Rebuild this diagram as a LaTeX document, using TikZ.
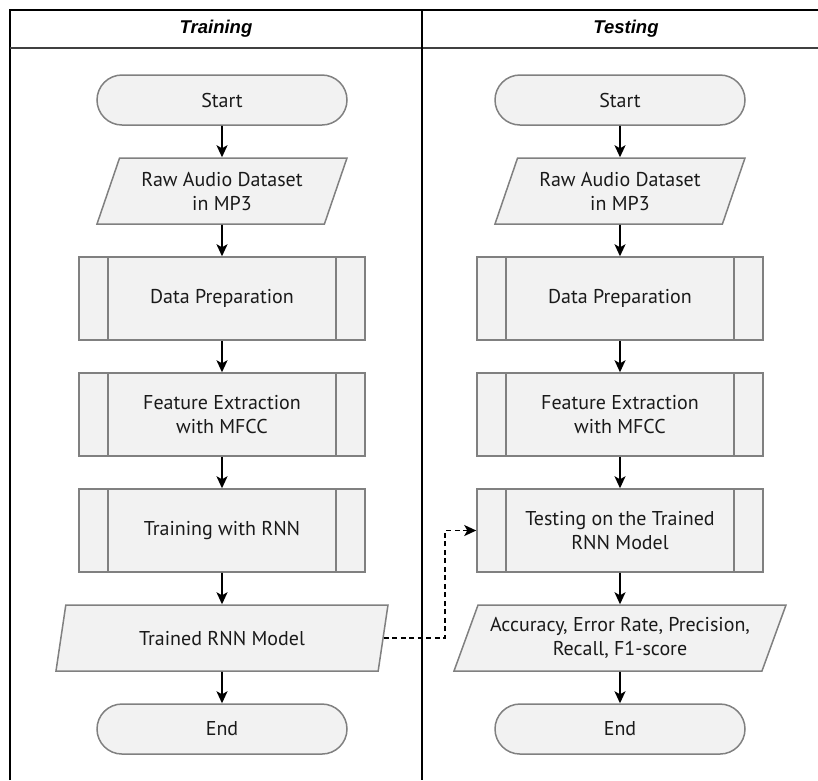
\documentclass[tikz,border=0pt]{standalone}
\usepackage{fontspec}
\setmainfont{PT Sans}
\newfontfamily\headfont{Liberation Sans}
\usetikzlibrary{positioning,shapes.geometric,arrows.meta}
\definecolor{boxfill}{HTML}{F2F2F2}
\definecolor{boxline}{HTML}{808080}
\definecolor{txtgray}{HTML}{1A1A1A}

\tikzset{
	base/.style={draw=boxline,fill=boxfill,line width=1.5pt,text=txtgray,
		font=\fontsize{20}{24}\selectfont,align=center,inner sep=2pt},
	terminal/.style={base,rectangle,rounded corners=25pt,minimum width=250pt,minimum height=50pt},
	iobox/.style={base,trapezium,trapezium left angle=62,trapezium right angle=118,
		trapezium stretches body=true,minimum height=66pt},
	subproc/.style={base,rectangle,minimum width=286pt,minimum height=83pt,
		path picture={\draw[boxline,line width=1.5pt]
			([xshift=29pt]path picture bounding box.north west) -- ([xshift=29pt]path picture bounding box.south west)
			([xshift=-29pt]path picture bounding box.north east) -- ([xshift=-29pt]path picture bounding box.south east);}},
	flow/.style={-{Stealth[length=12pt,width=11pt,inset=3pt]},line width=1.7pt},
	link/.style={flow,dash pattern=on 5pt off 3.5pt},
	frame/.style={line width=2pt},
	head/.style={font=\headfont\bfseries\itshape\fontsize{18.5}{20}\selectfont},
	node distance=31.5pt
}

\begin{document}
\begin{tikzpicture}[x=1pt,y=-1pt]
		\useasboundingbox (0,0) rectangle (818,780);
		
		% table frame
		\draw[frame] (10,780) -- (10,10) -- (818,10);
		\draw[frame,black!75,line width=2.4pt] (10,48) -- (818,48);
		\draw[frame] (422,10) -- (422,780);
		\node[head] (trHead) at (216,29) {Training};
		\node[head] (tsHead) at (626,29) {Testing};
		
		% training column
		\node[terminal] (trStart) at (222,100) {Start};
		\node[iobox,minimum width=250pt,below=of trStart] (trRaw) {Raw Audio Dataset\\in MP3};
		\node[subproc,below=of trRaw] (trPrep) {Data Preparation};
		\node[subproc,below=of trPrep] (trFeat) {Feature Extraction\\with MFCC};
		\node[subproc,below=of trFeat] (trRnn) {Training with RNN};
		\node[iobox,minimum width=332pt,below=of trRnn] (trModel) {Trained RNN Model};
		\node[terminal,below=of trModel] (trEnd) {End};
		
		% testing column
		\node[terminal] (tsStart) at (620,100) {Start};
		\node[iobox,minimum width=250pt,below=of tsStart] (tsRaw) {Raw Audio Dataset\\in MP3};
		\node[subproc,below=of tsRaw] (tsPrep) {Data Preparation};
		\node[subproc,below=of tsPrep] (tsFeat) {Feature Extraction\\with MFCC};
		\node[subproc,below=of tsFeat] (tsTest) {Testing on the Trained\\RNN Model};
		\node[iobox,minimum width=332pt,below=of tsTest] (tsMetric) {Accuracy, Error Rate, Precision,\\Recall, F1-score};
		\node[terminal,below=of tsMetric] (tsEnd) {End};
		
		\foreach \a/\b in {trStart/trRaw,trRaw/trPrep,trPrep/trFeat,trFeat/trRnn,trRnn/trModel,trModel/trEnd,
			tsStart/tsRaw,tsRaw/tsPrep,tsPrep/tsFeat,tsFeat/tsTest,tsTest/tsMetric,tsMetric/tsEnd}
		\draw[flow] (\a) -- (\b);
		
		\draw[link] (trModel.east) -- ([xshift=61pt]trModel.east) |- (tsTest.west);
\end{tikzpicture}
\end{document}
